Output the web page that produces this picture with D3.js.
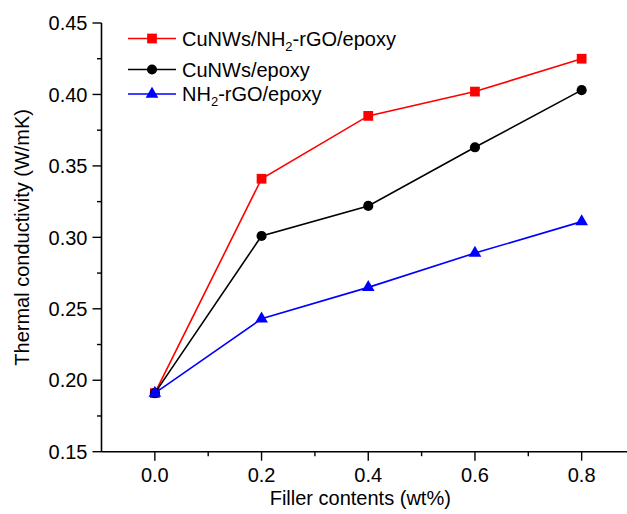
<!DOCTYPE html>
<html><head><meta charset="utf-8">
<script src="https://cdn.jsdelivr.net/npm/d3@7"></script>
<style>body{margin:0;background:#fff}svg{display:block;font-family:Arial,"Liberation Sans",sans-serif}</style>
</head><body>
<svg id="c" width="627" height="514"></svg>
<script>
const xValues = [0.0, 0.2, 0.4, 0.6, 0.8];
const seriesNames = ["CuNWs/NH2-rGO/epoxy", "CuNWs/epoxy", "NH2-rGO/epoxy"];
const cuRgo = [0.191, 0.341, 0.385, 0.402, 0.425];
const cuOnly = [0.191, 0.301, 0.322, 0.363, 0.403];
const rgoOnly = [0.191, 0.243, 0.265, 0.289, 0.311];
const xTicks = [0.0, 0.2, 0.4, 0.6, 0.8];
const yTicks = [0.15, 0.20, 0.25, 0.30, 0.35, 0.40, 0.45];

const svg = d3.select("#c");
const x = d3.scaleLinear().domain([-0.1, 0.9]).range([101.5, 635]);
const y = d3.scaleLinear().domain([0.15, 0.45]).range([451.7, 23]);

const series = [
  {name: seriesNames[0], values: cuRgo, color: "#ff0000", sym: d3.symbolSquare, size: 95},
  {name: seriesNames[1], values: cuOnly, color: "#000000", sym: d3.symbolCircle, size: 80},
  {name: seriesNames[2], values: rgoOnly, color: "#0000ff", sym: d3.symbolTriangle, size: 70}
];

// axes
const fs = 20;
const xAxis = svg.append("g").attr("transform", `translate(0,${y(0.15)})`);
xAxis.append("line").attr("x1", x(-0.1)).attr("x2", 627).attr("stroke", "#000").attr("stroke-width", 1.6);
const xMinor = d3.range(-0.1, 0.95, 0.1).map(v => +v.toFixed(2)).filter(v => !xTicks.some(t => Math.abs(t - v) < 1e-6));
xAxis.selectAll(".xmaj").data(xTicks).join("line").attr("x1", d => x(d)).attr("x2", d => x(d)).attr("y1", 0).attr("y2", 9).attr("stroke", "#000").attr("stroke-width", 1.4);
xAxis.selectAll(".xmin").data(xMinor.filter(v => v > -0.09)).join("line").attr("x1", d => x(d)).attr("x2", d => x(d)).attr("y1", 0).attr("y2", 4.5).attr("stroke", "#000").attr("stroke-width", 1.4);
xAxis.selectAll(".xlab").data(xTicks).join("text").attr("x", d => x(d)).attr("y", 30).attr("text-anchor", "middle").attr("font-size", fs).text(d => d3.format(".1f")(d));

const yAxis = svg.append("g").attr("transform", `translate(${x(-0.1)},0)`);
yAxis.append("line").attr("y1", y(0.15)).attr("y2", y(0.45)).attr("stroke", "#000").attr("stroke-width", 1.6);
yAxis.selectAll(".ymaj").data(yTicks).join("line").attr("x1", -9).attr("x2", 0).attr("y1", d => y(d)).attr("y2", d => y(d)).attr("stroke", "#000").attr("stroke-width", 1.4);
const yMinor = d3.range(0.175, 0.45, 0.05);
yAxis.selectAll(".ymin").data(yMinor).join("line").attr("x1", -4.5).attr("x2", 0).attr("y1", d => y(d)).attr("y2", d => y(d)).attr("stroke", "#000").attr("stroke-width", 1.4);
yAxis.selectAll(".ylab").data(yTicks).join("text").attr("x", -14).attr("y", d => y(d)).attr("dy", "0.36em").attr("text-anchor", "end").attr("font-size", fs).text(d => d3.format(".2f")(d));

svg.append("text").attr("x", (x(-0.1) + 627) / 2 - 4).attr("y", 505).attr("text-anchor", "middle").attr("font-size", fs).text("Filler contents (wt%)");
svg.append("text").attr("transform", `translate(29,${(y(0.15) + y(0.45)) / 2}) rotate(-90)`).attr("text-anchor", "middle").attr("font-size", fs).text("Thermal conductivity (W/mK)");

// lines and markers, series drawn in order (last on top)
const line = d3.line().x((d, i) => x(xValues[i])).y(d => y(d));
series.forEach(s => {
  const g = svg.append("g");
  g.append("path").datum(s.values).attr("d", line).attr("fill", "none").attr("stroke", s.color).attr("stroke-width", 1.6);
  g.selectAll(null).data(s.values).join("path")
    .attr("d", d3.symbol().type(s.sym).size(s.size))
    .attr("transform", (d, i) => `translate(${x(xValues[i])},${y(d)})`)
    .attr("fill", s.color);
});

// legend
const legRows = [38.5, 69.5, 94];
series.forEach((s, i) => {
  const g = svg.append("g").attr("transform", `translate(0,${legRows[i]})`);
  g.append("line").attr("x1", 128).attr("x2", 176).attr("stroke", s.color).attr("stroke-width", 1.6);
  g.append("path").attr("d", d3.symbol().type(s.sym).size(s.size)).attr("transform", "translate(152,0)").attr("fill", s.color);
  const t = g.append("text").attr("x", 182).attr("dy", "0.36em").attr("font-size", fs);
  const parts = s.name.split("NH2");
  if (parts.length > 1) {
    t.append("tspan").text(parts[0] + "NH");
    t.append("tspan").attr("font-size", 13).attr("dy", 5).text("2");
    t.append("tspan").attr("dy", -5).text(parts[1]);
  } else {
    t.text(s.name);
  }
});
</script>
</body></html>
